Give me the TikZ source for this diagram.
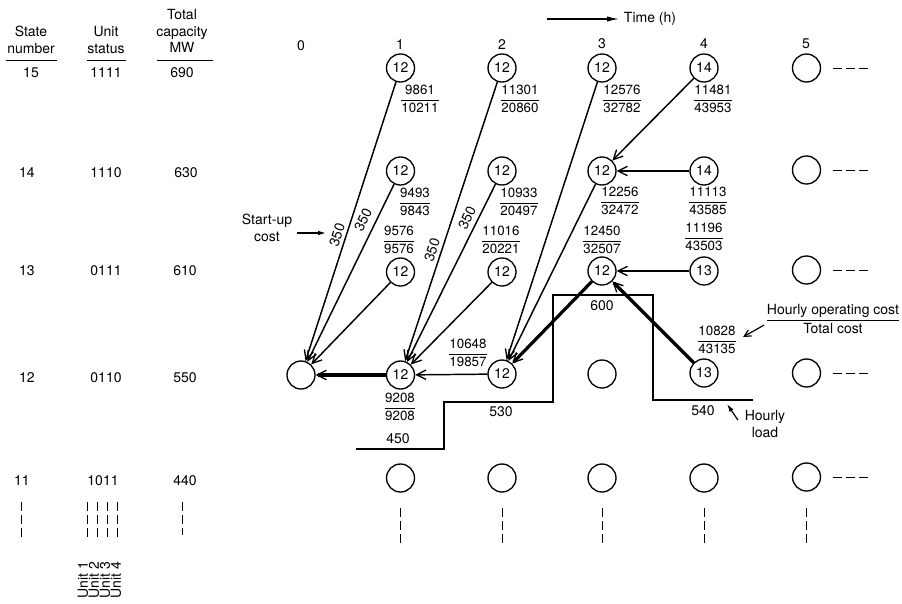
\documentclass[tikz,border=0pt]{standalone}
\usepackage{fontspec}
\setmainfont{TeX Gyre Heros}
\usetikzlibrary{arrows.meta,calc}
\renewcommand{\arraystretch}{1.1}
\newcommand{\cpair}[2]{\begin{tabular}{@{}c@{}}#1\\\hline #2\end{tabular}}

\tikzset{every picture/.style={line width=0.75pt}}
\tikzset{
  txt/.style={font=\fontsize{10.5}{12.6}\selectfont},
  stn/.style={circle, draw, line width=1pt, minimum size=21pt, inner sep=0pt, font=\fontsize{10.5}{12}\selectfont},
  trans/.style={line width=1.1pt, -{Straight Barb[length=7pt,width=7pt,line width=1pt]}},
  best/.style={trans, line width=2.4pt},
  cst/.style={font=\fontsize{10}{12}\selectfont, inner sep=0pt},
  sucost/.style={inner sep=1pt, font=\fontsize{10.5}{12}\selectfont},
  loadln/.style={line width=1.5pt},
  dsh/.style={line width=0.6pt, dash pattern=on 6.75pt off 3pt},
  pointer/.style={line width=0.9pt, -{Latex[length=6pt,width=3.5pt]}},
}

\begin{document}
\begin{tikzpicture}[x=0.75pt,y=0.75pt,yscale=-1,xscale=1]
\useasboundingbox (0,0) rectangle (902,603);

% Table head
\node (hstate) at (31,40) [txt, align=center] {State\\number};
\node (hunit) at (106,40) [txt, align=center] {Unit\\status};
\node (hcap) at (182,31) [txt, align=center] {Total\\capacity\\MW};
\draw (6,60) -- (57,60);
\draw (87,60) -- (126,60);
\draw (157,60) -- (213,60);

% Table rows
\node (n15) at (31,73) [txt] {15};
\node (u15) at (106,73) [txt] {1111};
\node (m15) at (182,73) [txt] {690};
\node (n14) at (27,173) [txt] {14};
\node (u14) at (106,173) [txt] {1110};
\node (m14) at (186,173) [txt] {630};
\node (n13) at (27,271) [txt] {13};
\node (u13) at (106,271) [txt] {0111};
\node (m13) at (185,271) [txt] {610};
\node (n12) at (27,378) [txt] {12};
\node (u12) at (106,378) [txt] {0110};
\node (m12) at (185,378) [txt] {550};
\node (n11) at (22,481) [txt] {11};
\node (u11) at (103,481) [txt] {1011};
\node (m11) at (185,481) [txt] {440};

% Dashes below the table
\draw [dsh] (21,502) -- (21,540);
\draw [dsh] (87,502) -- (87,540);
\draw [dsh] (97,502) -- (97,540);
\draw [dsh] (107,502) -- (107,540);
\draw [dsh] (117,502) -- (117,540);
\draw [dsh] (182,502) -- (182,535);

% Unit names
\node (un1) at (83,580) [txt, rotate=90] {Unit 1};
\node (un2) at (94,580) [txt, rotate=90] {Unit 2};
\node (un3) at (105,580) [txt, rotate=90] {Unit 3};
\node (un4) at (116,580) [txt, rotate=90] {Unit 4};

% Time axis
\coordinate (tm0) at (547,19);
\node (tmx) at (619,19) [txt, anchor=west] {Time (h)};
\draw [line width=0.9pt, -{Latex[length=9pt,width=4pt]}] (tm0) -- (tmx.west);
\node (h0) at (301,46) [txt] {0};
\node (h1) at (400,45) [txt] {1};
\node (h2) at (502,45) [txt] {2};
\node (h3) at (602,44) [txt] {3};
\node (h4) at (704,44) [txt] {4};
\node (h5) at (806,44) [txt] {5};

% Hourly load
\draw [loadln] (356,449) -- (444,449) -- (444,401.5) -- (553,401.5) -- (553,294.5) -- (652.5,294.5) -- (652.5,400) -- (753,400);
\node (ld1) at (398,439) [txt] {450};
\node (ld2) at (501,412) [txt] {530};
\node (ld3) at (602,306) [txt] {600};
\node (ld4) at (703,411) [txt] {540};

%Shape: Circle (states)
\node (s15h1) at (400.5,68) [stn] {12};
\node (s15h2) at (502,68) [stn] {12};
\node (s15h3) at (602,68) [stn] {12};
\node (s15h4) at (704,68) [stn] {14};
\node (s15h5) at (806.5,68) [stn] {};
\node (s14h1) at (400.5,171) [stn] {12};
\node (s14h2) at (502,171) [stn] {12};
\node (s14h3) at (602,171) [stn] {12};
\node (s14h4) at (704,171) [stn] {14};
\node (s14h5) at (806.5,170) [stn] {};
\node (s13h1) at (400.5,272) [stn] {12};
\node (s13h2) at (502,272) [stn] {12};
\node (s13h3) at (602,271) [stn] {12};
\node (s13h4) at (704,271) [stn] {13};
\node (s13h5) at (806.5,270) [stn] {};
\node (s12h0) at (301,375) [stn] {};
\node (s12h1) at (400.5,375) [stn] {12};
\node (s12h2) at (502,374) [stn] {12};
\node (s12h3) at (602,374) [stn] {};
\node (s12h4) at (704,373) [stn] {13};
\node (s12h5) at (806.5,373) [stn] {};
\node (s11h1) at (400.5,478) [stn] {};
\node (s11h2) at (502,478) [stn] {};
\node (s11h3) at (602,478) [stn] {};
\node (s11h4) at (704,478) [stn] {};
\node (s11h5) at (806.5,477) [stn] {};

% Dashes after hour 5 and below state 11
\draw [dsh] (833,68) -- (871,68);
\draw [dsh] (833,170) -- (871,170);
\draw [dsh] (833,270) -- (871,270);
\draw [dsh] (833,373) -- (871,373);
\draw [dsh] (833,477) -- (871,477);
\draw [dsh] (400.5,508) -- (400.5,546);
\draw [dsh] (502,508) -- (502,546);
\draw [dsh] (602,508) -- (602,546);
\draw [dsh] (704,508) -- (704,546);
\draw [dsh] (806.5,508) -- (806.5,546);

% Transitions
\draw [trans] (s15h1) -- (s12h0);
\draw [trans] (s14h1) -- (s12h0);
\draw [trans] (s13h1) -- (s12h0);
\draw [best] (s12h1) -- (s12h0);
\draw [trans] (s15h2) -- (s12h1);
\draw [trans] (s14h2) -- (s12h1);
\draw [trans] (s13h2) -- (s12h1);
\draw [trans] (s12h2) -- (s12h1);
\draw [trans] (s15h3) -- (s12h2);
\draw [trans] (s14h3) -- (s12h2);
\draw [best] (s13h3) -- (s12h2);
\draw [trans] (s15h4) -- (s14h3);
\draw [trans] (s14h4) -- (s14h3);
\draw [trans] (s13h4) -- (s13h3);
\draw [best] (s12h4) -- (s13h3);

% Text Node (start-up costs)
\node (sc1) at (337,235) [sucost, rotate=72] {350};
\node (sc2) at (363,220) [sucost, rotate=64] {350};
\node (sc3) at (432,250) [sucost, rotate=72] {350};
\node (sc4) at (467,218) [sucost, rotate=64] {350};

% Text Node (costs)
\node (c15h1) at (420,100) [cst] {\cpair{9861}{10211}};
\node (c15h2) at (520,100) [cst] {\cpair{11301}{20860}};
\node (c15h3) at (622,100) [cst] {\cpair{12576}{32782}};
\node (c15h4) at (713,100) [cst] {\cpair{11481}{43953}};
\node (c14h1) at (415,203) [cst] {\cpair{9493}{9843}};
\node (c14h2) at (519,203) [cst] {\cpair{10933}{20497}};
\node (c14h3) at (620,202) [cst] {\cpair{12256}{32472}};
\node (c14h4) at (708,202) [cst] {\cpair{11113}{43585}};
\node (c13h1) at (399,241) [cst] {\cpair{9576}{9576}};
\node (c13h2) at (501,241) [cst] {\cpair{11016}{20221}};
\node (c13h3) at (602,241) [cst] {\cpair{12450}{32507}};
\node (c13h4) at (704,238) [cst] {\cpair{11196}{43503}};
\node (c12h1) at (400,408) [cst] {\cpair{9208}{9208}};
\node (c12h2) at (468,354) [cst] {\cpair{10648}{19857}};
\node (c12h4) at (717,341) [cst] {\cpair{10828}{43135}};

% Text Node (notes)
\node (sunote) at (267,228) [txt, align=center] {Start-up\\cost};
\coordinate (suE) at (326,233);
\draw [pointer] (sunote.east |- suE) -- (suE);
\node (hoc) at (833,320) [txt, inner sep=1pt] {\cpair{Hourly operating cost}{Total cost}};
\coordinate (hocE) at (743,337);
\draw [line width=0.9pt, -{Straight Barb[length=5pt,width=5pt]}] ($(hoc.west)+(-1,5)$) -- (hocE);
\node (hl) at (765,424) [txt, align=center] {Hourly\\load};
\coordinate (hlE) at (727,404);
\draw [pointer] ($(hl.west)+(-2,-4)$) -- (hlE);

\end{tikzpicture}
\end{document}
